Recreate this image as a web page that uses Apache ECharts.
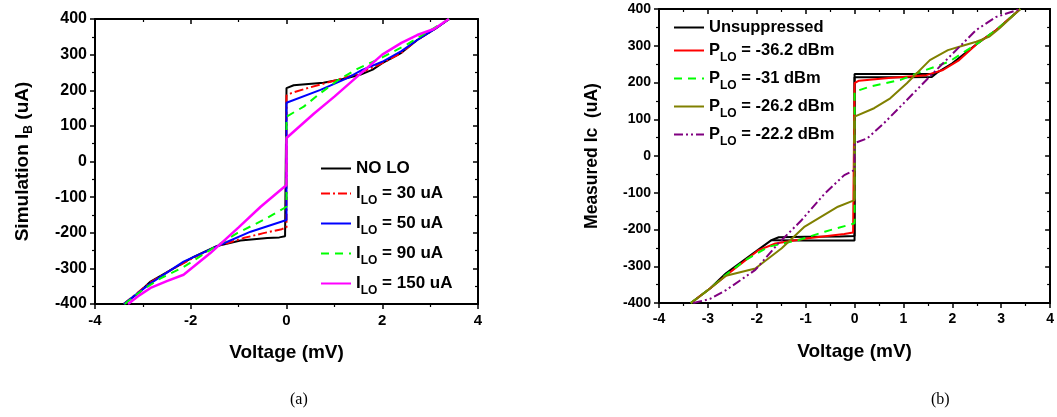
<!DOCTYPE html>
<html>
<head>
<meta charset="utf-8">
<script src="https://cdn.jsdelivr.net/npm/echarts@6/dist/echarts.min.js"></script>
<style>
  html, body { margin: 0; padding: 0; background: #fff; }
  #main { width: 1057px; height: 417px; }
</style>
</head>
<body>
<div id="main"></div>
<script>
// ---- panel (a): simulation, [voltage mV, current uA] ----
var aNames = ['NO LO', 'ILO = 30 uA', 'ILO = 50 uA', 'ILO = 90 uA', 'ILO = 150 uA'];
var aNoLo = [[-3.40,-400],[-3.10,-370],[-2.84,-337],[-2.42,-305],[-1.94,-268],[-1.45,-237],[-0.96,-222],[-0.40,-215],[-0.15,-213],[-0.03,-210],[0,-206],
             [0,206],[0.03,210],[0.15,214],[0.77,221],[1.27,234],[1.55,244],[1.80,258],[2.00,276],[2.40,305],[2.73,341],[3.10,372],[3.40,400]];
var aLo30 = [[-3.40,-400],[-2.84,-339],[-2.42,-305],[-1.94,-270],[-1.45,-238],[-0.90,-215],[-0.48,-201],[-0.10,-190],[0,-185],
             [0,185],[0.10,192],[0.44,206],[0.92,224],[1.45,244],[2.00,276],[2.40,305],[2.73,341],[3.10,372],[3.40,400]];
var aLo50 = [[-3.40,-400],[-2.84,-342],[-2.15,-281],[-1.45,-238],[-0.75,-197],[0,-164],
             [0,165],[0.71,201],[1.27,234],[1.58,257],[2.00,280],[2.40,310],[2.73,341],[3.10,372],[3.40,400]];
var aLo90 = [[-3.38,-400],[-3.00,-360],[-2.63,-328],[-2.15,-296],[-1.59,-248],[-1.03,-201],[-0.48,-164],[0,-127],
             [0,126],[0.36,154],[0.71,192],[1.06,227],[1.48,260],[2.00,292],[2.50,327],[2.90,360],[3.40,400]];
var aLo150 = [[-3.31,-400],[-3.10,-378],[-2.84,-355],[-2.50,-336],[-2.15,-318],[-1.59,-257],[-1.00,-185],[-0.54,-127],[0,-66],
              [0,66],[0.57,134],[1.00,182],[1.50,241],[2.00,300],[2.40,333],[2.73,355],[3.08,372],[3.39,400]];

// ---- panel (b): measurement ----
var bNames = ['Unsuppressed', 'PLO = -36.2 dBm', 'PLO = -31 dBm', 'PLO = -26.2 dBm', 'PLO = -22.2 dBm'];
var bUnsupUp = [[-3.35,-400],[-2.95,-360],[-2.63,-319],[-1.96,-254],[-1.70,-229],[-1.55,-221],[-1.00,-220],[-0.30,-219],[0,-218],
                [0,223],[0.30,223],[1.00,223],[1.58,223],[1.68,226],[2.00,252],[2.50,305],[2.90,343],[3.39,400]];
var bUnsupDown = [[-1.70,-229],[-1.00,-230],[0,-230],[0,214],[1.00,214],[1.58,215],[1.68,226]];
var bP362 = [[-3.35,-400],[-2.95,-360],[-2.57,-319],[-1.96,-256],[-1.62,-238],[-0.95,-224],[-0.21,-212],[-0.03,-208],[0,-205],
             [0,198],[0.09,205],[0.70,212],[1.47,220],[1.81,234],[2.14,261],[2.50,305],[2.90,343],[3.39,400]];
var bP31 = [[-3.35,-400],[-2.95,-360],[-2.63,-323],[-2.23,-283],[-1.76,-247],[-1.15,-229],[-0.61,-206],[-0.05,-185],[0,-183],
            [0,175],[0.32,189],[0.94,207],[1.27,225],[1.94,257],[2.50,305],[2.90,343],[3.39,400]];
var bP262 = [[-3.34,-400],[-2.97,-362],[-2.63,-326],[-2.03,-306],[-1.49,-251],[-1.02,-192],[-0.34,-138],[0,-120],
             [0,107],[0.40,130],[0.73,157],[1.07,198],[1.54,261],[1.91,288],[2.21,300],[2.49,311],[2.76,325],[2.96,347],[3.39,400]];
var bP222 = [[-3.30,-400],[-2.96,-389],[-2.63,-365],[-2.03,-310],[-1.56,-238],[-1.08,-174],[-0.61,-102],[-0.21,-52],[0,-38],
             [0,35],[0.26,48],[0.60,89],[1.00,143],[1.47,207],[2.01,279],[2.49,343],[2.89,378],[3.39,400]];

var aXTicks = [-4, 4, 2];      // min, max, interval
var bXTicks = [-4, 4, 1];
var yTicks = [-400, 400, 100];

var font = 'Arial, "Liberation Sans", sans-serif';

// legend text: subscript "LO" pushed down with padding
function legendRich(fs) {
  return {
    m: {fontSize: fs, fontWeight: 'bold', fontFamily: font, color: '#000', lineHeight: 18, padding: [4, 0, 5, 0]},
    s: {fontSize: 12, fontWeight: 'bold', fontFamily: font, color: '#000', lineHeight: 12, padding: [15, 0, 0, 0]},
    t: {fontSize: fs, fontWeight: 'bold', fontFamily: font, color: '#000', lineHeight: 16}
  };
}
function legendFmt(name) {
  var m = name.match(/^([IP])LO(.*)$/);
  if (m) return '{m|' + m[1] + '}{s|LO}{m|' + m[2] + '}';
  return '{t|' + name + '}';
}

function bottomAxis(grid, t, label) {
  return {
    type: 'value', gridIndex: grid, position: 'bottom', min: t[0], max: t[1], interval: t[2],
    name: 'Voltage (mV)', nameLocation: 'middle', nameGap: 39,
    nameTextStyle: {fontSize: 19, fontWeight: 'bold', fontFamily: font, color: '#000'},
    axisLine: {onZero: false, lineStyle: {color: '#000', width: 2}},
    axisTick: {inside: false, length: 5, lineStyle: {color: '#000', width: 1.5}},
    minorTick: {show: true, splitNumber: 2, length: 3, lineStyle: {color: '#000', width: 1.2}},
    axisLabel: {fontSize: label, fontWeight: 'bold', fontFamily: font, color: '#000', margin: 9},
    splitLine: {show: false}
  };
}
function topAxis(grid, t) {
  return {
    type: 'value', gridIndex: grid, position: 'top', min: t[0], max: t[1], interval: t[2],
    axisLine: {onZero: false, lineStyle: {color: '#000', width: 2}},
    axisTick: {inside: true, length: 5, lineStyle: {color: '#000', width: 1.5}},
    minorTick: {show: true, splitNumber: 2, length: 3, lineStyle: {color: '#000', width: 1.2}},
    axisLabel: {show: false}, splitLine: {show: false}
  };
}
function leftAxis(grid, name, gap, label, fs) {
  return {
    type: 'value', gridIndex: grid, position: 'left', min: yTicks[0], max: yTicks[1], interval: yTicks[2],
    name: name, nameLocation: 'middle', nameGap: gap, nameRotate: 90,
    nameTextStyle: {
      fontSize: fs, fontWeight: 'bold', fontFamily: font, color: '#000',
      rich: {
        m: {fontSize: fs, fontWeight: 'bold', fontFamily: font, color: '#000', lineHeight: 20, verticalAlign: 'top'},
        s: {fontSize: 12, fontWeight: 'bold', fontFamily: font, color: '#000', lineHeight: 12, padding: [12, 0, 0, 0]}
      }
    },
    axisLine: {onZero: false, lineStyle: {color: '#000', width: 2}},
    axisTick: {inside: false, length: 5, lineStyle: {color: '#000', width: 1.5}},
    minorTick: {show: true, splitNumber: 2, length: 3, lineStyle: {color: '#000', width: 1.2}},
    axisLabel: {fontSize: label, fontWeight: 'bold', fontFamily: font, color: '#000', margin: 8},
    splitLine: {show: false}
  };
}
function rightAxis(grid) {
  return {
    type: 'value', gridIndex: grid, position: 'right', min: yTicks[0], max: yTicks[1], interval: yTicks[2],
    axisLine: {onZero: false, lineStyle: {color: '#000', width: 2}},
    axisTick: {inside: true, length: 5, lineStyle: {color: '#000', width: 1.5}},
    minorTick: {show: true, splitNumber: 2, length: 3, lineStyle: {color: '#000', width: 1.2}},
    axisLabel: {show: false}, splitLine: {show: false}
  };
}
function line(name, data, xi, yi, color, width, dash) {
  return {
    name: name, type: 'line', xAxisIndex: xi, yAxisIndex: yi, data: data,
    symbol: 'none', showSymbol: false, smooth: false,
    lineStyle: {color: color, width: width, type: dash || 'solid'},
    itemStyle: {color: color}
  };
}

var myChart = echarts.init(document.getElementById('main'));
myChart.setOption({
  animation: false,
  backgroundColor: '#fff',
  grid: [
    {left: 95, top: 19, width: 383, height: 285},
    {left: 659, top: 9, width: 396, height: 294}
  ],
  xAxis: [bottomAxis(0, aXTicks, 15), topAxis(0, aXTicks), bottomAxis(1, bXTicks, 14), topAxis(1, bXTicks)],
  yAxis: [
    leftAxis(0, '{m|Simulation I}{s|B}{m| (uA)}', 62, 16, 19), rightAxis(0),
    leftAxis(1, 'Measured Ic  (uA)', 58, 14, 17.5), rightAxis(1)
  ],
  legend: [
    {data: aNames, orient: 'vertical', left: 320, top: 160, padding: 0, itemWidth: 30, itemHeight: 14, itemGap: 3,
     itemStyle: {opacity: 0}, selectedMode: false, formatter: legendFmt, textStyle: {rich: legendRich(17)}},
    {data: bNames, orient: 'vertical', left: 673, top: 19, padding: 0, itemWidth: 30, itemHeight: 14, itemGap: 1,
     itemStyle: {opacity: 0}, selectedMode: false, formatter: legendFmt, textStyle: {rich: legendRich(16.5)}}
  ],
  series: [
    line(aNames[0], aNoLo, 0, 0, '#000000', 2),
    line(aNames[1], aLo30, 0, 0, '#ff0000', 2, [9, 3, 2, 3]),
    line(aNames[2], aLo50, 0, 0, '#0000ff', 2),
    line(aNames[3], aLo90, 0, 0, '#00ff00', 2, [8, 6]),
    line(aNames[4], aLo150, 0, 0, '#ff00ff', 2.5),
    line(bNames[0], bUnsupUp, 2, 2, '#000000', 2),
    line(bNames[0], bUnsupDown, 2, 2, '#000000', 2),
    line(bNames[1], bP362, 2, 2, '#ff0000', 2),
    line(bNames[2], bP31, 2, 2, '#00ff00', 2, [8, 6]),
    line(bNames[3], bP262, 2, 2, '#808000', 2),
    line(bNames[4], bP222, 2, 2, '#800080', 2, [9, 3, 2, 3, 2, 3])
  ],
  graphic: [
    {type: 'text', left: 290, top: 392, style: {text: '(a)', font: '16px "Liberation Serif", "Times New Roman", serif', fill: '#000'}},
    {type: 'text', left: 931, top: 392, style: {text: '(b)', font: '16px "Liberation Serif", "Times New Roman", serif', fill: '#000'}}
  ]
});
</script>
</body>
</html>
